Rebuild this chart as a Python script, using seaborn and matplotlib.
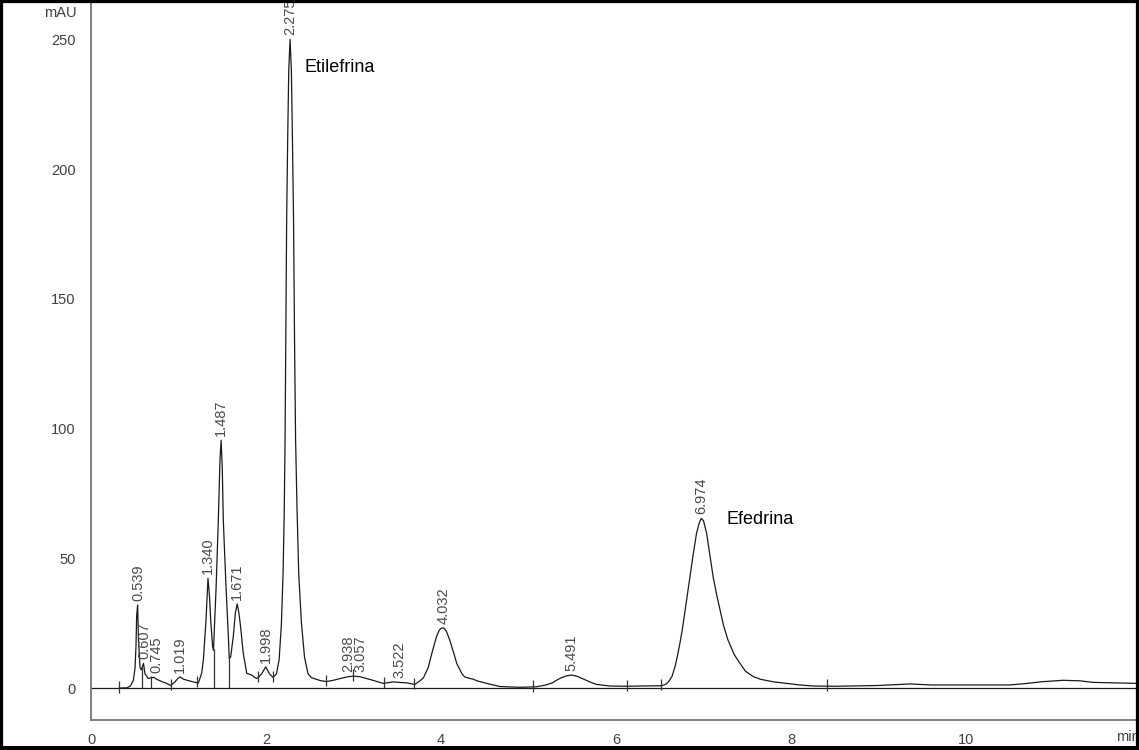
import numpy as np
import pandas as pd
import matplotlib
matplotlib.use("Agg")
import matplotlib.pyplot as plt
from matplotlib.patches import Rectangle
import seaborn as sns

# ---- data ----
time_min = [0.32, 0.41, 0.45, 0.484, 0.503, 0.514, 0.522, 0.533, 0.542, 0.56, 0.575, 0.60, 0.617,
            0.655, 0.69, 0.72, 0.75, 0.81, 0.865, 0.91, 0.96, 0.99, 1.017, 1.06, 1.12, 1.17, 1.227,
            1.265, 1.284, 1.314, 1.337, 1.355, 1.368, 1.39, 1.40, 1.406, 1.43, 1.455, 1.474, 1.487,
            1.50, 1.512, 1.543, 1.57, 1.58, 1.596, 1.626, 1.65, 1.671, 1.69, 1.71, 1.74, 1.78, 1.836,
            1.89, 1.91, 1.95, 1.997, 2.04, 2.08, 2.12, 2.15, 2.175, 2.195, 2.208, 2.218, 2.226, 2.236,
            2.248, 2.260, 2.275, 2.290, 2.302, 2.315, 2.326, 2.338, 2.354, 2.374, 2.405, 2.44, 2.48,
            2.52, 2.62, 2.69, 2.77, 2.85, 2.94, 3.0, 3.07, 3.19, 3.34, 3.455, 3.52, 3.61, 3.70, 3.76,
            3.80, 3.855, 3.90, 3.95, 3.98, 4.00, 4.03, 4.06, 4.10, 4.15, 4.18, 4.217, 4.24, 4.27,
            4.32, 4.37, 4.41, 4.56,
            4.674, 4.9, 5.09, 5.2, 5.27, 5.32, 5.37, 5.43, 5.49, 5.55, 5.60, 5.66, 5.72, 5.78, 5.93,
            6.12, 6.27, 6.52, 6.57, 6.60, 6.64, 6.674, 6.70, 6.73, 6.76, 6.79, 6.82, 6.846, 6.88, 6.92,
            6.95, 6.974, 7.0, 7.036, 7.07, 7.11, 7.15, 7.19, 7.23, 7.28, 7.35, 7.417, 7.48, 7.57,
            7.65, 7.8, 8.1, 8.255, 8.5, 9.0, 9.36, 9.6, 10.5, 10.7, 10.85, 11.11, 11.3, 11.45, 11.97]
signal_mau = [0.0, 0.1, 0.8, 3.0, 7.6, 16, 28, 32, 19, 8, 7, 9.5, 5.5,
              3.7, 4.0, 4.1, 3.4, 2.5, 1.8, 1.0, 2.4, 3.6, 4.3, 3.4, 2.8, 2.4, 1.9,
              5.8, 10.8, 26, 42.3, 35, 26, 16, 14.6, 19.8, 39, 64.7, 88, 95.5,
              85, 64.7, 39, 19.8, 11.4, 12, 19.8, 29, 32.4, 29, 23.6, 13.4, 5.7, 5.0,
              3.7, 4.0, 5.5, 8.2, 5.5, 4.1, 5.5, 11, 24, 44, 67, 96, 135, 180,
              212, 238, 250, 238, 212, 180, 135, 96, 70, 44, 25, 12, 5.5,
              4.0, 2.9, 2.5, 3.0, 3.7, 4.4, 4.6, 4.4, 3.3, 1.8, 2.4, 2.2, 2.0, 1.4, 2.8,
              4.0, 8, 14, 20, 22.3, 23, 23.2, 22, 18.5, 13, 9.5, 7.0, 5.5, 4.3,
              3.8, 3.4, 2.8, 1.5,
              0.6, 0.3, 0.5, 1.2, 2.0, 3.0, 3.9, 4.7, 5.0, 4.6, 3.9, 3.0, 2.1, 1.4, 0.8,
              0.7, 0.8, 0.9, 1.5, 2.4, 4.5, 8.2, 12, 17.2, 23, 30, 37, 42.9, 51, 59.6,
              63.5, 65.4, 64.5, 59.6, 52, 42.9, 36, 30, 24, 18.5, 13, 9.5, 6.5, 4.4,
              3.4, 2.4, 1.2, 0.8, 0.7, 1.0, 1.6, 1.2, 1.2, 1.8, 2.4, 3.0, 2.8, 2.2, 1.8]

peak_rt = [0.539, 0.607, 0.745, 1.019, 1.340, 1.487, 1.671, 1.998, 2.275,
           2.938, 3.057, 3.522, 4.032, 5.491, 6.974]
peak_height = [32, 9.5, 4.1, 4.3, 42.3, 95.5, 32.4, 8.2, 250,
               4.4, 4.6, 2.2, 23.2, 5.0, 65.4]

drop_times = [0.58, 0.69, 1.40, 1.58]
event_times = [0.32, 0.91, 1.21, 1.91, 2.08, 2.69, 2.995, 3.35, 3.69, 5.05, 6.12, 6.51, 8.41]

compound_names = ["Etilefrina", "Efedrina"]
compound_pos = [(2.44, 239), (7.26, 65)]

y_major = [0, 50, 100, 150, 200, 250]
x_major = [0, 2, 4, 6, 8, 10]

# ---- style ----
sns.set_style("white")
plt.rcParams["font.family"] = ["Liberation Sans", "DejaVu Sans"]

fig = plt.figure(figsize=(11.39, 7.5), dpi=100)
ax = fig.add_axes([91 / 1139, 30 / 750, 1050 / 1139, 717 / 750])

df = pd.DataFrame({"time": time_min, "mAU": signal_mau})
sns.lineplot(data=df, x="time", y="mAU", ax=ax, color="#1a1a1a", lw=0.9,
             estimator=None, sort=False)

ax.axhline(0, color="#1a1a1a", lw=0.9, zorder=1)

tarr = np.array(time_min)
varr = np.array(signal_mau)
for t in drop_times:
    top = np.interp(t, tarr, varr)
    ax.vlines(t, 0, top + 0.5, color="#333333", lw=0.9)
for t in event_times:
    c = np.interp(t, tarr, varr)
    ax.vlines(t, c - 1.8, c + 2.6, color="#333333", lw=0.9)

for rt, h in zip(peak_rt, peak_height):
    dx = 1.5 if rt == 3.057 else 0
    ax.annotate(f"{rt:.3f}", xy=(rt, h), xytext=(dx, 3), textcoords="offset points",
                rotation=90, ha="center", va="bottom", fontsize=10.5, color="#4a4a4a")

for name, (x, y) in zip(compound_names, compound_pos):
    ax.text(x, y, name, fontsize=13, color="black", ha="left", va="center")

ax.set_xlim(0, 12)
ax.set_ylim(-12.3, 264)
ax.set_xticks(x_major)
ax.set_xticklabels([str(v) for v in x_major])
ax.set_xticks(np.arange(0.5, 12.01, 0.5), minor=True)
ax.set_yticks(y_major)
ax.set_yticklabels([str(v) for v in y_major])
ax.set_yticks(np.arange(-10, 261, 10), minor=True)
ax.set_xlabel("")
ax.set_ylabel("")

for side in ["top", "right"]:
    ax.spines[side].set_visible(False)
for side in ["left", "bottom"]:
    ax.spines[side].set_color("#808080")
    ax.spines[side].set_linewidth(1.4)

ax.tick_params(axis="both", which="major", direction="out", length=6, width=1.1,
               color="#808080", labelsize=10.5, labelcolor="#404040")
ax.tick_params(axis="both", which="minor", direction="out", length=3, width=1.1,
               color="#808080")
ax.tick_params(axis="y", which="major", pad=5)
ax.tick_params(axis="x", which="major", pad=3)

ax.annotate("mAU", xy=(0, 260), xycoords=("axes fraction", "data"), xytext=(-10.5, 0),
            textcoords="offset points", ha="right", va="center", fontsize=10.5, color="#404040")
fig.text(1116 / 1139, 1 - 737 / 750, "min", ha="left", va="center", fontsize=10.5, color="#404040")

fig.patches.append(Rectangle((0, 0), 1, 1, transform=fig.transFigure, fill=False,
                             lw=4.5, ec="black", zorder=10))
fig.patches.append(Rectangle((0, 0), 1, 4 / 750, transform=fig.transFigure, fill=True,
                             fc="black", ec="none", zorder=10))

fig.savefig("out.png", dpi=100)
